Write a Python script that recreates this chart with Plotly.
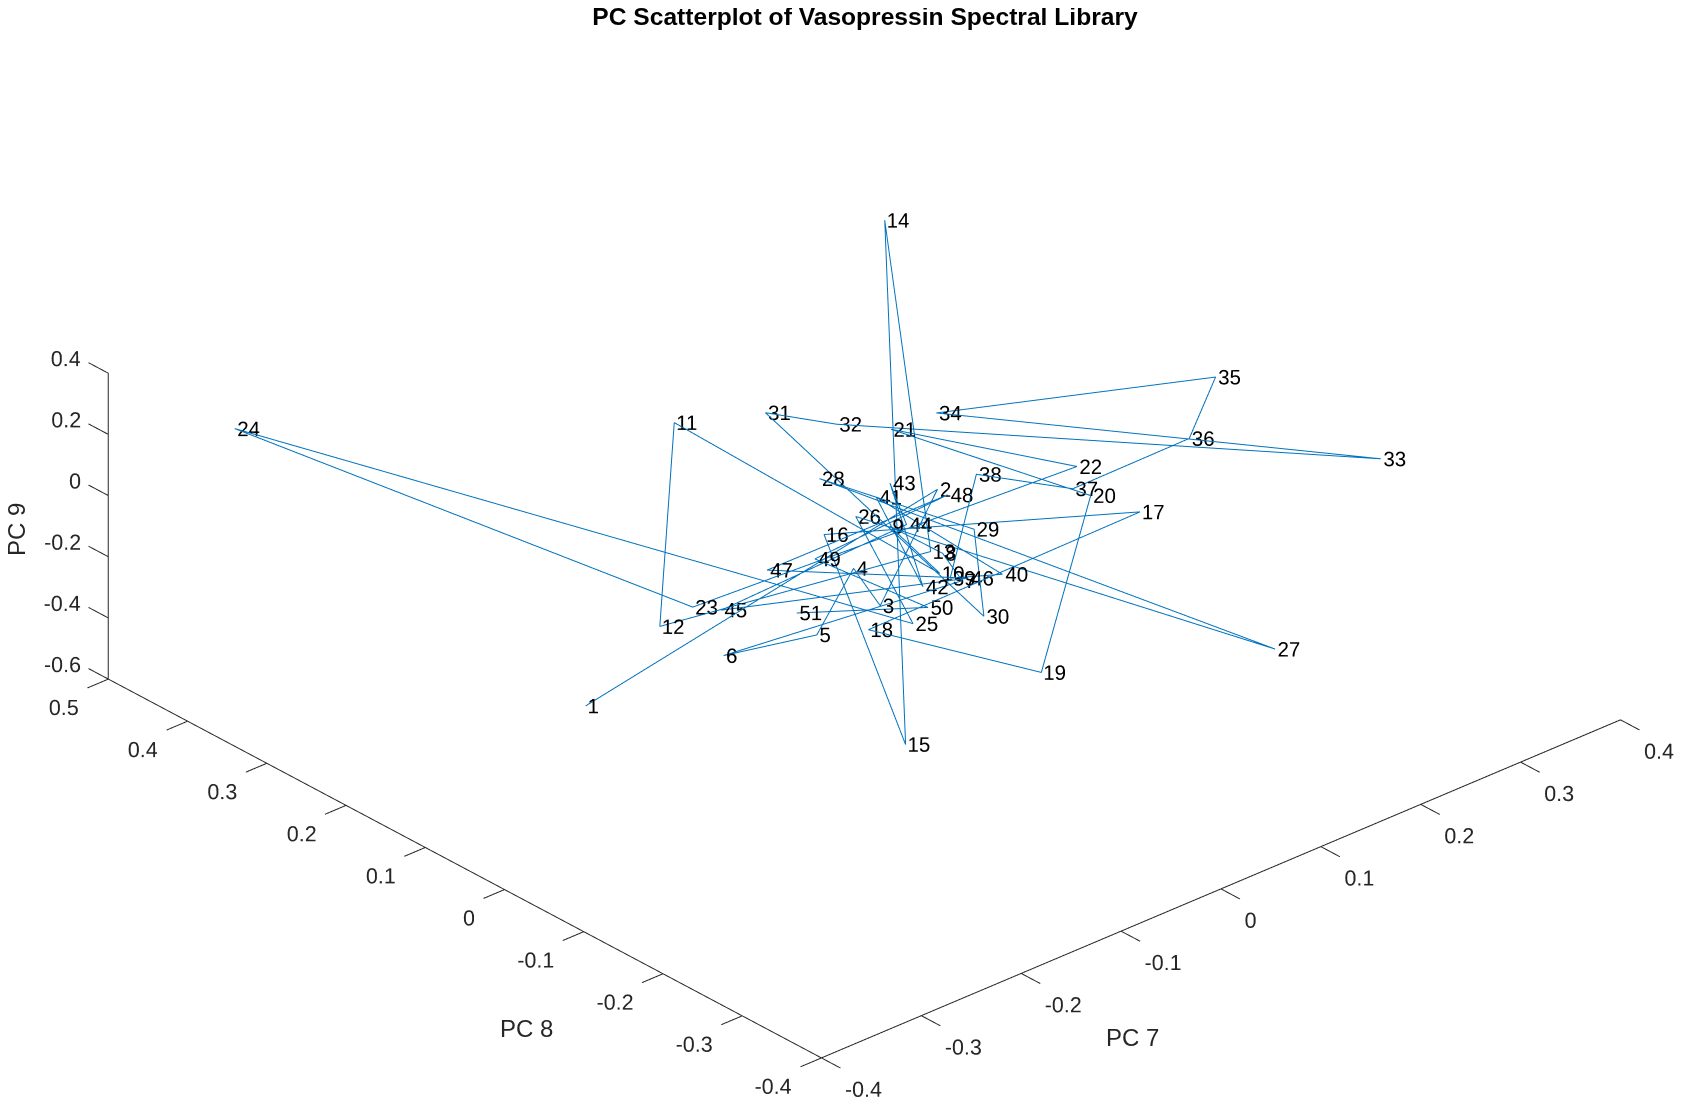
import plotly.graph_objects as go
pc7=[-0.268, 0.043, -0.05, -0.045, -0.1, -0.164, 0.009, 0.014, -0.003, 0.001, -0.069, -0.185, 0.006, 0.206, -0.05, -0.042, 0.145, -0.069, 0.005, 0.125, 0.048, 0.135, -0.156, -0.317, -0.041, -0.015, 0.147, -0.018, 0.044, 0.003, -0.011, 0.023, 0.306, 0.084, 0.258, 0.211, 0.119, 0.074, 0.005, 0.035, 0.007, -0.016, 0.02, 0.008, -0.14, 0.015, -0.095, 0.046, -0.063, -0.022, -0.101]
pc8=[0.064, 0.012, -0.033, 0.007, -0.016, 0.021, -0.062, -0.031, 0.014, -0.044, 0.203, 0.075, -0.026, 0.284, -0.065, 0.048, -0.115, -0.042, -0.167, -0.078, 0.077, -0.048, 0.07, 0.445, -0.063, 0.042, -0.283, 0.084, -0.033, -0.097, 0.161, 0.114, -0.216, 0.065, -0.068, -0.094, -0.063, 0.002, -0.052, -0.08, 0.044, -0.044, 0.043, 0.007, 0.054, -0.062, 0.053, 0.003, 0.033, -0.058, 0.008]
pc9=[-0.27, 0.08, -0.11, -0.05, -0.16, -0.19, -0.07, -0.03, 0.02, -0.06, 0.19, -0.14, -0.02, 0.36, -0.52, 0.0, 0.04, -0.15, -0.22, 0.07, 0.18, 0.11, -0.11, 0.18, -0.14, 0.03, -0.18, 0.1, 0.01, -0.13, 0.2, 0.18, 0.13, 0.2, 0.26, 0.16, 0.08, 0.1, -0.07, -0.06, 0.06, -0.08, 0.09, 0.02, -0.12, -0.07, -0.05, 0.07, -0.03, -0.12, -0.12]
labels=[str(i+1) for i in range(51)]
x_ticks=[-.4,-.3,-.2,-.1,0,.1,.2,.3,.4]
y_ticks=[-.4,-.3,-.2,-.1,0,.1,.2,.3,.4,.5]
z_ticks=[-.6,-.4,-.2,0,.2,.4]
x0,x1,y0,y1,z0,z1=-.4,.4,-.4,.5,-.6,.4
INK='#262626'
FONT='Liberation Sans'
def fmt(v): return '0' if abs(v)<1e-9 else ('%g'%v)
fig=go.Figure()
fig.add_trace(go.Scatter3d(x=pc7,y=pc8,z=pc9,mode='lines',line=dict(color='#0072BD',width=2),name='path'))
fig.add_trace(go.Scatter3d(x=[v-.0095 for v in pc7],y=[v+.0095 for v in pc8],z=pc9,mode='text',text=labels,textposition='middle right',textfont=dict(family=FONT,size=20.5,color='black'),name='labels'))
ax_x=[x1,x0,x0,x0];ax_y=[y0,y0,y1,y1];ax_z=[z0,z0,z0,z1]
fig.add_trace(go.Scatter3d(x=ax_x,y=ax_y,z=ax_z,mode='lines',line=dict(color=INK,width=2),name='axes'))
tx=[];ty=[];tz=[]
for v in x_ticks: tx+=[v,v,None];ty+=[y0,y0-.024,None];tz+=[z0,z0,None]
for v in y_ticks: tx+=[x0,x0-.021,None];ty+=[v,v,None];tz+=[z0,z0,None]
for v in z_ticks: tx+=[x0,x0,None];ty+=[y1,y1+.025,None];tz+=[v,v,None]
fig.add_trace(go.Scatter3d(x=tx,y=ty,z=tz,mode='lines',line=dict(color=INK,width=2),name='ticks'))
tf=dict(family=FONT,size=21.5,color=INK)
fig.add_trace(go.Scatter3d(x=[v-.0311 for v in x_ticks],y=[y0-.0429]*len(x_ticks),z=[z0]*len(x_ticks),mode='text',text=[fmt(v) for v in x_ticks],textposition='middle right',textfont=tf))
fig.add_trace(go.Scatter3d(x=[x0-.0346]*len(y_ticks),y=[v-.0323 for v in y_ticks],z=[z0]*len(y_ticks),mode='text',text=[fmt(v) for v in y_ticks],textposition='middle left',textfont=tf))
fig.add_trace(go.Scatter3d(x=[x0]*len(z_ticks),y=[y1+.0085]*len(z_ticks),z=[v+.0364 for v in z_ticks],mode='text',text=[fmt(v) for v in z_ticks],textposition='middle left',textfont=tf))
hid=dict(visible=False,showspikes=False)
W,H=1683,1100
tit=dict(family=FONT,size=24,color=INK)
def note(t,px,py,ang=0): return dict(text=t,x=px/W,y=1-py/H,xref='paper',yref='paper',xanchor='center',yanchor='middle',showarrow=False,textangle=ang,font=tit)
fig.update_layout(width=W,height=H,margin=dict(l=0,r=0,t=0,b=0),paper_bgcolor='white',showlegend=False,hovermode=False,
 title=dict(text='PC Scatterplot of Vasopressin Spectral Library',x=857/W,xanchor='center',y=1-8/H,yanchor='middle',font=dict(family=FONT,size=24.6,color='black',weight='bold')),
 annotations=[note('PC 7',1124,1029),note('PC 8',518,1020),note('PC 9',8,522,-90)],
 scene=dict(domain=dict(x=[0,1],y=[0,1]),aspectmode='manual',aspectratio=dict(x=2.434,y=2.380,z=.758),
 xaxis=dict(hid,range=[-.5,.5]),yaxis=dict(hid,range=[-.5,.6]),zaxis=dict(hid,range=[-.7,.5]),
 camera=dict(projection=dict(type='orthographic'),eye=dict(x=-.594*3,y=-.652*3,z=.467*3),center=dict(x=-.0265,y=.0110,z=-.0186),up=dict(x=0,y=0,z=1))))
fig.write_html('out.html')
